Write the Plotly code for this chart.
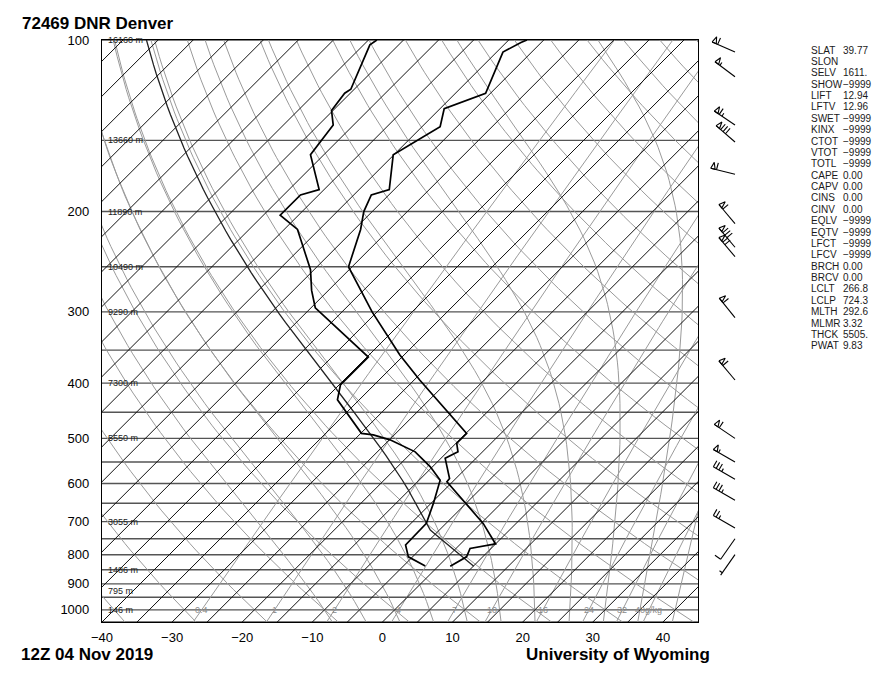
import numpy as np
import plotly.graph_objects as go

# ---------------- data ----------------
temp_p = [838, 807, 780, 766, 705, 596, 588, 542, 528, 510, 490, 428, 395, 357, 300, 250,
          215, 200, 187, 183, 159, 142, 132, 124, 105, 101, 100]
temp_c = [1.7, 2.7, 2.0, 5.0, 0.3, -10.8, -10.9, -14.4, -13.5, -14.9, -14.9, -23.9, -29.2,
          -35.6, -45.7, -55.5, -59.1, -61.2, -62.5, -60.7, -65.1, -62.4, -64.4, -60.7,
          -64.1, -62.9, -62.4]

dwpt_p = [837, 807, 769, 705, 649, 592, 561, 528, 503, 493, 490, 428, 403, 379, 360, 295,
          275, 253, 234, 215, 203, 187, 183, 159, 141, 133, 124, 122, 102, 100]
dwpt_c = [-1.9, -5.6, -7.7, -7.8, -9.7, -12.0, -15.3, -19.6, -24.9, -28.0, -29.9, -38.1,
          -39.8, -39.8, -39.8, -54.4, -57.4, -60.5, -64.1, -68.1, -72.6, -72.6, -70.7,
          -76.9, -77.9, -80.2, -80.8, -80.5, -84.1, -83.8]

# parcel (mixed layer) parameters from the index panel
sfc_p = 838.0
lcl_p = 724.3
lcl_t_k = 266.8
ml_theta_k = 292.6

barb_p = [105, 116, 141, 151, 172, 210, 231, 240, 307, 395, 500, 550, 590, 642, 718, 750, 800]
barb_dir = [294, 307, 304, 311, 284, 320, 320, 320, 321, 320, 304, 300, 300, 300, 300, 215, 215]
barb_kt = [60, 55, 65, 80, 60, 60, 80, 70, 60, 60, 60, 55, 35, 35, 25, 10, 5]

isobar_levels = list(range(100, 1051, 50))
height_p = [100, 150, 200, 250, 300, 400, 500, 700, 850, 925, 1000]
height_lbl = ["16160 m", "13660 m", "11890 m", "10490 m", "9290 m", "7300 m",
              "5550 m", "3055 m", "1486 m", "795 m", "146 m"]
mixr_gkg = [0.4, 1, 2, 4, 7, 10, 16, 24, 32, 40]
mixr_lbl = ["0.4", "1", "2", "4", "7", "10", "16", "24", "32", "40g/kg"]
moist_thw = [-10, -5, 0, 5, 10, 15, 20, 25, 30, 35, 40]
dry_theta_c = list(range(-40, 201, 10))
iso_t = list(range(-125, 46, 5))
x_ticks = [-40, -30, -20, -10, 0, 10, 20, 30, 40]
p_ticks = [100, 200, 300, 400, 500, 600, 700, 800, 900, 1000]

index_names = ["SLAT", "SLON", "SELV", "SHOW", "LIFT", "LFTV", "SWET", "KINX", "CTOT",
               "VTOT", "TOTL", "CAPE", "CAPV", "CINS", "CINV", "EQLV", "EQTV", "LFCT",
               "LFCV", "BRCH", "BRCV", "LCLT", "LCLP", "MLTH", "MLMR", "THCK", "PWAT"]
index_vals = ["39.77", "", "1611.", "\u22129999", "12.94", "12.96", "\u22129999", "\u22129999",
              "\u22129999", "\u22129999", "\u22129999", "0.00", "0.00", "0.00", "0.00",
              "\u22129999", "\u22129999", "\u22129999", "\u22129999", "0.00", "0.00",
              "266.8", "724.3", "292.6", "3.32", "5505.", "9.83"]

# ---------------- layout geometry ----------------
W, H = 883, 676
PL, PR, PT, PB = 102, 698, 40, 622
P_BOT, P_TOP = 1050.0, 100.0
X_MIN, X_MAX = -40.0, 45.0
LN_PER_PX = np.log(P_BOT / P_TOP) / (PB - PT)
K = (1.0 / LN_PER_PX) / ((PR - PL) / (X_MAX - X_MIN))   # 45 degree isotherms

FONT = "Liberation Sans, Arial, sans-serif"
GRAY = "#9a9a9a"

RD, CPD, LV, EPS = 287.04, 1005.7, 2.501e6, 0.622
KAP = RD / CPD


def skx(t, p):
    return np.asarray(t, float) + K * np.log(P_BOT / np.asarray(p, float))


def es_hpa(tk):
    tc = tk - 273.15
    return 6.112 * np.exp(17.67 * tc / (tc + 243.5))


def dT_dlnp(p, tk):
    e = es_hpa(tk)
    r = EPS * e / (p - e)
    return (RD * tk + LV * r) / (CPD + LV * LV * r * EPS / (RD * tk * tk))


def moist_path(t0k, p0, p_targets):
    out = []
    t, lp = t0k, np.log(p0)
    for pt in p_targets:
        n = max(1, int(abs(np.log(pt) - lp) / 0.01) + 1)
        h = (np.log(pt) - lp) / n
        for _ in range(n):
            k1 = dT_dlnp(np.exp(lp), t)
            k2 = dT_dlnp(np.exp(lp + h / 2), t + h / 2 * k1)
            k3 = dT_dlnp(np.exp(lp + h / 2), t + h / 2 * k2)
            k4 = dT_dlnp(np.exp(lp + h), t + h * k3)
            t += h * (k1 + 2 * k2 + 2 * k3 + k4) / 6
            lp += h
        out.append(t)
    return np.array(out)


def td_from_w(w_gkg, p):
    w = w_gkg / 1000.0
    e = w * p / (EPS + w)
    a = np.log(e / 6.112)
    return 243.5 * a / (17.67 - a)


def join(segs):
    xs, ys = [], []
    for x, y in segs:
        xs += list(x) + [None]
        ys += list(y) + [None]
    return xs, ys


fig = go.Figure()
p_full = np.geomspace(P_BOT, P_TOP, 90)

# isobars
segs = [([X_MIN, X_MAX], [p, p]) for p in isobar_levels]
xs, ys = join(segs)
fig.add_trace(go.Scatter(x=xs, y=ys, mode="lines", line=dict(color="#555555", width=1.4),
                         hoverinfo="skip", showlegend=False))

# dry adiabats
segs = []
for th in dry_theta_c:
    tk = (th + 273.15) * (p_full / 1000.0) ** KAP
    segs.append((skx(tk - 273.15, p_full), p_full))
xs, ys = join(segs)
fig.add_trace(go.Scatter(x=xs, y=ys, mode="lines", line=dict(color=GRAY, width=1),
                         hoverinfo="skip", showlegend=False))

# moist adiabats
segs = []
p_up = np.geomspace(1000, P_TOP, 70)
p_dn = np.array([1025.0, 1050.0])
for thw in moist_thw:
    t_up = moist_path(thw + 273.15, 1000.0, p_up)
    t_dn = moist_path(thw + 273.15, 1000.0, p_dn)
    pp = np.concatenate([p_dn[::-1], p_up])
    tt = np.concatenate([t_dn[::-1], t_up]) - 273.15
    segs.append((skx(tt, pp), pp))
xs, ys = join(segs)
fig.add_trace(go.Scatter(x=xs, y=ys, mode="lines", line=dict(color=GRAY, width=1),
                         hoverinfo="skip", showlegend=False))

# mixing ratio lines
segs = []
for w in mixr_gkg:
    segs.append((skx(td_from_w(w, p_full), p_full), p_full))
xs, ys = join(segs)
fig.add_trace(go.Scatter(x=xs, y=ys, mode="lines", line=dict(color=GRAY, width=1),
                         hoverinfo="skip", showlegend=False))

# isotherms
segs = [(skx([t, t], [P_BOT, P_TOP]), [P_BOT, P_TOP]) for t in iso_t]
xs, ys = join(segs)
fig.add_trace(go.Scatter(x=xs, y=ys, mode="lines", line=dict(color="#111111", width=1),
                         hoverinfo="skip", showlegend=False))

# parcel path: dry adiabat to LCL, then moist adiabat
p_dry = np.geomspace(sfc_p, lcl_p, 10)
t_dry = ml_theta_k * (p_dry / 1000.0) ** KAP
p_moist = np.geomspace(lcl_p, P_TOP, 60)[1:]
t_moist = moist_path(lcl_t_k, lcl_p, p_moist)
pp = np.concatenate([p_dry, p_moist])
tt = np.concatenate([t_dry, t_moist]) - 273.15
fig.add_trace(go.Scatter(x=skx(tt, pp), y=pp, mode="lines", line=dict(color="#222222", width=1.3),
                         hoverinfo="skip", showlegend=False))

# sounding
fig.add_trace(go.Scatter(x=skx(dwpt_c, dwpt_p), y=dwpt_p, mode="lines",
                         line=dict(color="black", width=1.7), showlegend=False))
fig.add_trace(go.Scatter(x=skx(temp_c, temp_p), y=temp_p, mode="lines",
                         line=dict(color="black", width=1.7), showlegend=False))

# ---------------- wind barbs (pixel x, log-p y over full figure) ----------------
BARB_X, STAFF = 735.0, 25.0
bx, by, fx, fy = [], [], [], []


def to_xy(px, dy, pbase):
    return px, pbase * np.exp(dy * LN_PER_PX)


for p, d, s in zip(barb_p, barb_dir, barb_kt):
    r = np.deg2rad(d)
    ux, uy = np.sin(r), -np.cos(r)
    nx, ny = -uy, ux
    tipx, tipy = STAFF * ux, STAFF * uy

    def P(dist):
        return tipx - dist * ux, tipy - dist * uy

    for q in ((0.0, 0.0), (tipx, tipy)):
        x, y = to_xy(BARB_X + q[0], q[1], p)
        bx.append(x); by.append(y)
    bx.append(None); by.append(None)
    n50 = s // 50
    rem = s - 50 * n50
    n10 = rem // 10
    n5 = 1 if rem - 10 * n10 >= 5 else 0
    dist = 0.0
    for _ in range(n50):
        a = P(dist); b = P(dist + 4.5); c = P(dist + 2.0)
        apex = (c[0] + nx * 6.5, c[1] + ny * 6.5)
        for q in (a, apex, b, a):
            x, y = to_xy(BARB_X + q[0], q[1], p)
            fx.append(x); fy.append(y)
        fx.append(None); fy.append(None)
        dist += 6.0
    if n50 == 0 and n10 == 0:
        dist = 3.0
    for _ in range(n10):
        a = P(dist)
        e = (a[0] + nx * 7.0, a[1] + ny * 7.0)
        for q in (a, e):
            x, y = to_xy(BARB_X + q[0], q[1], p)
            bx.append(x); by.append(y)
        bx.append(None); by.append(None)
        dist += 3.2
    if n5:
        a = P(dist)
        e = (a[0] + nx * 3.5, a[1] + ny * 3.5)
        for q in (a, e):
            x, y = to_xy(BARB_X + q[0], q[1], p)
            bx.append(x); by.append(y)
        bx.append(None); by.append(None)

fig.add_trace(go.Scatter(x=fx, y=fy, xaxis="x2", yaxis="y2", mode="lines", fill="toself",
                         fillcolor="white", line=dict(color="black", width=1.1),
                         hoverinfo="skip", showlegend=False))
fig.add_trace(go.Scatter(x=bx, y=by, xaxis="x2", yaxis="y2", mode="lines",
                         line=dict(color="black", width=1.1), hoverinfo="skip", showlegend=False))

# ---------------- annotations ----------------
ann = []
for p, lbl in zip(height_p, height_lbl):
    ann.append(dict(x=-39.4, y=np.log10(p), xref="x", yref="y", text=lbl, showarrow=False,
                    xanchor="left", yanchor="middle", font=dict(family=FONT, size=9, color="#222")))
for w, lbl in zip(mixr_gkg, mixr_lbl):
    ann.append(dict(x=float(skx(td_from_w(w, 1000.0), 1000.0)), y=3.0, xref="x", yref="y",
                    text=lbl, showarrow=False, xanchor="center", yanchor="middle",
                    font=dict(family=FONT, size=9, color="#8a8a8a")))

ann.append(dict(x=20 / W, y=1 - 23 / H, xref="paper", yref="paper", text="<b>72469 DNR Denver</b>",
                showarrow=False, xanchor="left", yanchor="middle",
                font=dict(family=FONT, size=17, color="black")))
ann.append(dict(x=20 / W, y=1 - 654 / H, xref="paper", yref="paper", text="<b>12Z 04 Nov 2019</b>",
                showarrow=False, xanchor="left", yanchor="middle", borderpad=0,
                font=dict(family=FONT, size=17, color="black")))
ann.append(dict(x=711 / W, y=1 - 654 / H, xref="paper", yref="paper",
                text="<b>University of Wyoming</b>", showarrow=False, xanchor="right",
                yanchor="middle", borderpad=0, font=dict(family=FONT, size=17, color="black")))

for i, (n, v) in enumerate(zip(index_names, index_vals)):
    yy = 1 - (50 + i * 11.38) / H
    ann.append(dict(x=809 / W, y=yy, xref="paper", yref="paper", text=n, showarrow=False,
                    xanchor="left", yanchor="middle", font=dict(family=FONT, size=10, color="#1a1a1a")))
    if v:
        ann.append(dict(x=841 / W, y=yy, xref="paper", yref="paper", text=v, showarrow=False,
                        xanchor="left", yanchor="middle", font=dict(family=FONT, size=10, color="#1a1a1a")))

p_top_fig = P_TOP * np.exp(-PT * LN_PER_PX)
p_bot_fig = P_TOP * np.exp((H - PT) * LN_PER_PX)

fig.update_layout(
    width=W, height=H, margin=dict(l=0, r=0, t=0, b=0),
    paper_bgcolor="white", plot_bgcolor="rgba(0,0,0,0)",
    showlegend=False, annotations=ann,
    xaxis=dict(domain=[PL / W, PR / W], range=[X_MIN, X_MAX], anchor="y", showgrid=False,
               zeroline=False, showline=True, linecolor="black", linewidth=1.2, mirror=True,
               ticks="", tickvals=x_ticks, ticklabelstandoff=3,
               tickfont=dict(family=FONT, size=13, color="black"), automargin=False),
    yaxis=dict(domain=[1 - PB / H, 1 - PT / H], type="log",
               range=[np.log10(P_BOT), np.log10(P_TOP)], anchor="x", showgrid=False,
               zeroline=False, showline=True, linecolor="black", linewidth=1.2, mirror=True,
               ticks="", tickvals=p_ticks, ticktext=[str(v) for v in p_ticks],
               ticklabelstandoff=9,
               tickfont=dict(family=FONT, size=13, color="black"), automargin=False),
    xaxis2=dict(domain=[0, 1], range=[0, W], anchor="y2", visible=False, fixedrange=True),
    yaxis2=dict(domain=[0, 1], type="log", range=[np.log10(p_bot_fig), np.log10(p_top_fig)],
                anchor="x2", visible=False, fixedrange=True),
)

fig.write_html("out.html", config={"displayModeBar": False},
               post_script="document.body.style.margin='0';")
